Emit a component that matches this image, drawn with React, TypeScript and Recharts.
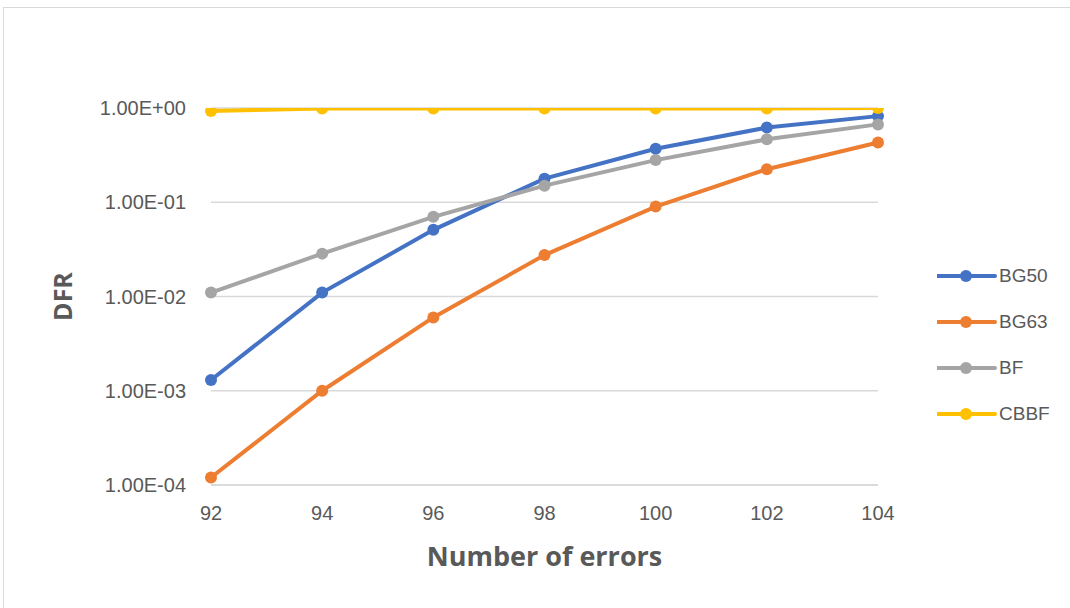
import React from "react";
import { LineChart, Line, XAxis, YAxis, CartesianGrid, Legend, Label } from "recharts";

const errors = [92, 94, 96, 98, 100, 102, 104];
const bg50 = [1.3e-3, 1.1e-2, 5.1e-2, 0.178, 0.37, 0.62, 0.82];
const bg63 = [1.2e-4, 1.0e-3, 6.0e-3, 2.75e-2, 0.09, 0.224, 0.43];
const bf = [1.1e-2, 2.85e-2, 0.07, 0.15, 0.28, 0.465, 0.67];
const cbbf = [0.93, 0.99, 0.99, 0.99, 0.99, 0.99, 1.0];
const yTicks = [1e-4, 1e-3, 1e-2, 1e-1, 1];
const xTicks = [92, 94, 96, 98, 100, 102, 104];

const seriesNames = ["BG50", "BG63", "BF", "CBBF"];
const seriesColors = ["#4472C4", "#ED7D31", "#A5A5A5", "#FFC000"];
const seriesValues = [bg50, bg63, bf, cbbf];

const data = errors.map((e, i) => {
  const row: any = { x: e };
  seriesNames.forEach((n, k) => {
    row[n] = seriesValues[k][i];
  });
  return row;
});

const fmtExp = (v: number) => {
  const exp = Math.round(Math.log10(v));
  const mant = v / Math.pow(10, exp);
  const sign = exp < 0 ? "-" : "+";
  const abs = Math.abs(exp);
  return `${mant.toFixed(2)}E${sign}${abs < 10 ? "0" + abs : abs}`;
};

const TEXT = "#595959";
const TICK_FONT = "'Liberation Sans', Arial, sans-serif";
const TITLE_FONT = "'Open Sans', sans-serif";

const LegendContent = (props: any) => {
  const payload = [...(props.payload || [])].sort(
    (a: any, b: any) => seriesNames.indexOf(a.value) - seriesNames.indexOf(b.value)
  );
  return (
    <div>
      {payload.map((p: any) => (
        <div key={p.value} style={{ height: 46, display: "flex", alignItems: "center" }}>
          <svg width={62} height={20} style={{ display: "block" }}>
            <line x1={0} y1={10} x2={58} y2={10} stroke={p.color} strokeWidth={4} strokeLinecap="round" />
            <circle cx={29} cy={10} r={6} fill={p.color} />
          </svg>
          <span style={{ fontFamily: TICK_FONT, fontSize: 19, color: TEXT }}>{p.value}</span>
        </div>
      ))}
    </div>
  );
};

export default function App() {
  return (
    <div style={{ position: "absolute", left: 0, top: 0, width: 1070, height: 608, overflow: "hidden", background: "#fff" }}>
      <div style={{ position: "absolute", left: 3, top: 7, width: 1100, height: 700, border: "1px solid #d9d9d9", boxSizing: "border-box" }} />
      <div style={{ position: "absolute", left: 0, top: 0 }}>
        <LineChart width={1070} height={608} data={data} margin={{ top: 108, right: 192, left: 91, bottom: 83 }}>
          <CartesianGrid horizontal vertical={false} stroke="#d9d9d9" strokeWidth={1.5} />
          <XAxis
            dataKey="x"
            type="number"
            domain={[92, 104]}
            ticks={xTicks}
            height={40}
            tickSize={0}
            tickMargin={21}
            axisLine={{ stroke: "#d9d9d9", strokeWidth: 1.5 }}
            tickLine={false}
            tick={{ fill: TEXT, fontSize: 20, fontFamily: TICK_FONT }}
            allowDecimals={false}
          >
            <Label
              value="Number of errors"
              position="bottom"
              offset={22}
              style={{ fill: TEXT, fontSize: 27, fontWeight: 700, fontFamily: TITLE_FONT }}
            />
          </XAxis>
          <YAxis
            scale="log"
            domain={[1e-4, 1]}
            ticks={yTicks}
            type="number"
            width={120}
            tickSize={0}
            tickMargin={25}
            axisLine={false}
            tickLine={false}
            allowDataOverflow
            tickFormatter={fmtExp}
            tick={{ fill: TEXT, fontSize: 20, fontFamily: TICK_FONT }}
          >
            <Label
              content={(props: any) => {
                const vb = props.viewBox || {};
                const cx = vb.x - 29;
                const cy = vb.y + vb.height / 2;
                return (
                  <text
                    x={cx}
                    y={cy}
                    transform={`rotate(-90 ${cx} ${cy})`}
                    textAnchor="middle"
                    dominantBaseline="central"
                    style={{ fill: TEXT, fontSize: 25, fontWeight: 700, fontFamily: TITLE_FONT }}
                  >
                    DFR
                  </text>
                );
              }}
            />
          </YAxis>
          <Legend
            layout="vertical"
            align="center"
            verticalAlign="middle"
            content={<LegendContent />}
            wrapperStyle={{ left: 937, top: 253, width: 130, transform: "none" }}
          />
          {seriesNames.map((n, k) => (
            <Line
              key={n}
              dataKey={n}
              name={n}
              type="linear"
              stroke={seriesColors[k]}
              strokeWidth={4}
              dot={{ r: 6, fill: seriesColors[k], stroke: "none" }}
              activeDot={false}
              isAnimationActive={false}
            />
          ))}
        </LineChart>
      </div>
    </div>
  );
}
